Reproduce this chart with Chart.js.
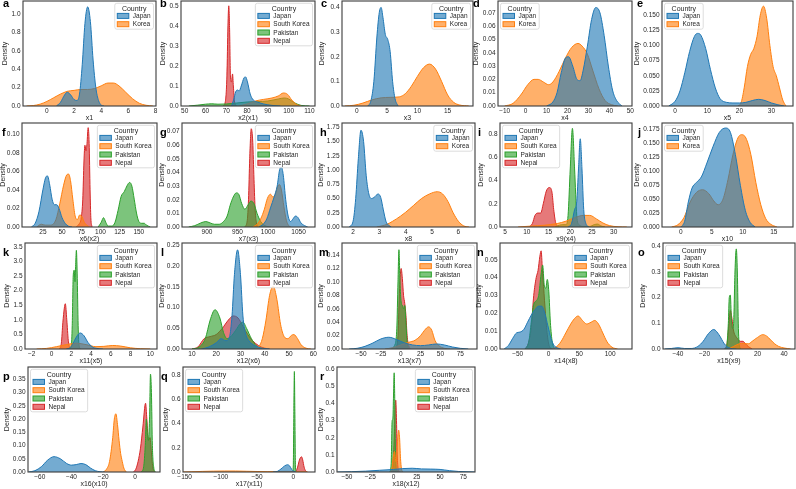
<!DOCTYPE html>
<html><head><meta charset="utf-8">
<script src="https://cdn.jsdelivr.net/npm/chart.js@4/dist/chart.umd.min.js"></script>
<style>
html,body{margin:0;padding:0;background:#fff}
body{width:796px;height:489px;position:relative;overflow:hidden;font-family:"Liberation Sans",Arial,sans-serif}
canvas{position:absolute}
.pl{position:absolute;font-weight:bold;font-size:11px;line-height:11px;color:#000}
</style></head><body>
<script>
// ---------- categories ----------
const C2 = ["Japan","Korea"];
const C4 = ["Japan","South Korea","Pakistan","Nepal"];
const COLOR = {"Japan":"#1f77b4","Korea":"#ff7f0e","South Korea":"#ff7f0e","Pakistan":"#2ca02c","Nepal":"#d62728"};

// ---------- tick labels ----------
const a_xt=["0","2","4","6","8"], a_yt=["0.0","0.2","0.4","0.6","0.8","1.0"];
const b_xt=["50","60","70","80","90","100","110"], b_yt=["0.0","0.1","0.2","0.3","0.4","0.5"];
const c_xt=["0","5","10","15"], c_yt=["0.0","0.1","0.2","0.3","0.4"];
const d_xt=["−10","0","10","20","30","40","50"], d_yt=["0.00","0.01","0.02","0.03","0.04","0.05","0.06","0.07"];
const e_xt=["0","10","20","30"], e_yt=["0.000","0.025","0.050","0.075","0.100","0.125","0.150"];
const f_xt=["25","50","75","100","125","150"], f_yt=["0.00","0.02","0.04","0.06","0.08","0.10"];
const g_xt=["900","950","1000","1050"], g_yt=["0.00","0.01","0.02","0.03","0.04","0.05","0.06","0.07"];
const h_xt=["2","3","4","5","6"], h_yt=["0.00","0.25","0.50","0.75","1.00","1.25","1.50","1.75"];
const i_xt=["5","10","15","20","25","30"], i_yt=["0.0","0.2","0.4","0.6","0.8"];
const j_xt=["0","5","10","15"], j_yt=["0.000","0.025","0.050","0.075","0.100","0.125","0.150","0.175"];
const k_xt=["−2","0","2","4","6","8","10"], k_yt=["0.0","0.5","1.0","1.5","2.0","2.5","3.0","3.5"];
const l_xt=["10","20","30","40","50","60"], l_yt=["0.00","0.05","0.10","0.15","0.20","0.25"];
const m_xt=["−50","−25","0","25","50","75"], m_yt=["0.00","0.02","0.04","0.06","0.08","0.10","0.12","0.14"];
const n_xt=["−50","0","50","100"], n_yt=["0.00","0.01","0.02","0.03","0.04","0.05"];
const o_xt=["−40","−20","0","20","40"], o_yt=["0.0","0.1","0.2","0.3","0.4"];
const p_xt=["−60","−40","−20","0"], p_yt=["0.00","0.05","0.10","0.15","0.20","0.25","0.30","0.35"];
const q_xt=["−150","−100","−50","0"], q_yt=["0.0","0.2","0.4","0.6","0.8"];
const r_xt=["−50","−25","0","25","50","75"], r_yt=["0.0","0.1","0.2","0.3","0.4","0.5","0.6"];

// ---------- series values (x, density) ----------
const a_Japan=[[0.7,0],[1.0,0.04],[1.3,0.12],[1.5,0.15],[1.75,0.12],[2.0,0.07],[2.2,0.06],[2.4,0.13],[2.6,0.45],[2.8,0.9],[3.0,1.08],[3.2,0.92],[3.4,0.5],[3.6,0.2],[3.8,0.06],[4.0,0.01],[4.2,0]];
const a_Korea=[[-1.5,0],[-1,0.005],[-0.5,0.02],[0,0.05],[0.5,0.09],[1,0.13],[1.5,0.16],[2,0.17],[2.5,0.18],[3,0.18],[3.5,0.19],[4,0.22],[4.5,0.25],[4.9,0.25],[5.3,0.22],[5.8,0.15],[6.3,0.08],[6.8,0.03],[7.3,0.008],[7.8,0]];

const b_Japan=[[72.5,0],[73.5,0.03],[74.5,0.07],[75.3,0.08],[76.2,0.075],[77.2,0.1],[78.5,0.14],[79.3,0.145],[80.2,0.12],[81.5,0.06],[83,0.03],[85,0.02],[88,0.01],[92,0.003],[96,0]];
const b_SK=[[76,0],[80,0.01],[84,0.025],[88,0.033],[92,0.04],[95,0.05],[97.5,0.065],[99.5,0.058],[101.5,0.03],[103.5,0.01],[106,0]];
const b_Pak=[[52,0],[56,0.004],[60,0.009],[63,0.011],[66,0.009],[70,0.01],[75,0.015],[80,0.02],[85,0.022],[90,0.025],[95,0.035],[98,0.04],[100,0.035],[103,0.015],[106,0.003],[110,0]];
const b_Nepal=[[68.5,0],[69.5,0.02],[70.3,0.15],[70.8,0.4],[71.2,0.5],[71.6,0.38],[72.0,0.15],[72.5,0.12],[73.0,0.16],[73.4,0.1],[74,0.02],[75,0]];

const c_Japan=[[1.8,0],[2.3,0.02],[2.8,0.1],[3.3,0.28],[3.7,0.38],[4.0,0.4],[4.3,0.36],[4.7,0.29],[5.1,0.27],[5.5,0.22],[5.9,0.1],[6.3,0.03],[6.8,0]];
const c_Korea=[[-2,0],[-0.5,0.003],[1,0.012],[2.5,0.025],[4,0.033],[5.5,0.035],[7,0.037],[8,0.05],[9,0.08],[10,0.12],[11,0.155],[12,0.17],[13,0.15],[14,0.1],[15,0.045],[16,0.015],[17,0.004],[18.5,0]];

const d_Japan=[[10,0],[13,0.003],[15,0.01],[17,0.025],[19,0.036],[20.5,0.037],[22.5,0.03],[24.5,0.02],[26,0.019],[27.5,0.027],[29.5,0.045],[31.5,0.065],[33.5,0.074],[35.5,0.07],[37.5,0.053],[39.5,0.03],[41.5,0.012],[43.5,0.004],[46,0]];
const d_Korea=[[-10,0],[-6,0.002],[-2,0.009],[1,0.016],[4,0.02],[6,0.02],[8.5,0.018],[11,0.016],[13,0.018],[16,0.026],[19,0.036],[22,0.044],[25,0.047],[27,0.045],[29.5,0.039],[32,0.027],[35,0.013],[38,0.004],[41,0.001],[44,0]];

const e_Japan=[[-2,0],[0,0.008],[1.5,0.025],[3,0.055],[4.5,0.09],[6,0.115],[7,0.12],[8,0.117],[9.5,0.095],[11,0.06],[12.5,0.03],[14,0.012],[16,0.006],[18,0.005],[20,0.005],[22,0.006],[24,0.009],[26,0.011],[28,0.009],[30,0.005],[32,0.002],[34,0]];
const e_Korea=[[19.5,0],[20.5,0.005],[21.5,0.03],[22.5,0.065],[23.5,0.085],[24.5,0.095],[25.5,0.115],[26.5,0.15],[27.5,0.165],[28.5,0.145],[29.5,0.1],[30.5,0.065],[31.5,0.05],[32.5,0.03],[33.5,0.01],[34.5,0]];

const f_Japan=[[10,0],[15,0.004],[20,0.017],[25,0.04],[29,0.054],[31,0.055],[34,0.045],[37,0.03],[40,0.024],[43,0.024],[46,0.02],[50,0.01],[54,0.004],[58,0.001],[63,0]];
const f_SK=[[17,0],[23,0.003],[28,0.002],[35,0.002],[42,0.008],[47,0.025],[52,0.045],[56,0.056],[58.5,0.057],[61,0.05],[64,0.03],[67,0.012],[70,0.008],[73,0.013],[76,0.011],[79,0.005],[82,0.002],[86,0]];
const f_Pak=[[97,0],[101,0.005],[104,0.01],[107,0.005],[110,0.001],[115,0.001],[119,0.005],[123,0.018],[127,0.033],[131,0.038],[135,0.045],[138,0.048],[141,0.044],[144,0.03],[147,0.015],[150,0.006],[154,0.004],[157,0.004],[160,0.002],[165,0]];
const f_Nepal=[[68,0],[72,0.003],[75,0.01],[77,0.03],[78.5,0.07],[79.8,0.088],[81.2,0.082],[82.5,0.09],[84,0.107],[85.3,0.09],[86.5,0.04],[87.5,0.01],[89,0]];

const g_Japan=[[985,0],[992,0.002],[998,0.006],[1004,0.014],[1010,0.022],[1015,0.03],[1019,0.042],[1022,0.044],[1025,0.038],[1029,0.02],[1033,0.008],[1037,0.004],[1041,0.006],[1045,0.008],[1049,0.007],[1054,0.003],[1060,0.001],[1065,0]];
const g_SK=[[975,0],[982,0.002],[988,0.006],[994,0.013],[999,0.021],[1004,0.024],[1008,0.022],[1012,0.024],[1016,0.03],[1019,0.031],[1022,0.027],[1026,0.015],[1030,0.005],[1034,0.001],[1038,0]];
const g_Pak=[[870,0],[880,0.001],[890,0.003],[898,0.004],[905,0.003],[912,0.002],[920,0.002],[927,0.004],[933,0.008],[938,0.016],[943,0.022],[948,0.025],[952,0.024],[957,0.017],[962,0.013],[967,0.016],[972,0.019],[977,0.017],[982,0.01],[988,0.004],[995,0.001],[1005,0]];
const g_Nepal=[[962,0],[966,0.005],[968,0.02],[970,0.05],[972.5,0.072],[975,0.062],[977,0.035],[979,0.012],[981,0.003],[984,0]];

const h_Japan=[[1.85,0],[2.0,0.1],[2.1,0.5],[2.2,1.2],[2.3,1.7],[2.4,1.5],[2.5,0.9],[2.6,0.58],[2.7,0.5],[2.8,0.52],[2.95,0.58],[3.05,0.52],[3.15,0.3],[3.25,0.1],[3.35,0.03],[3.45,0]];
const h_Korea=[[2.9,0],[3.1,0.02],[3.3,0.05],[3.5,0.1],[3.8,0.19],[4.0,0.26],[4.3,0.38],[4.6,0.5],[4.9,0.58],[5.2,0.62],[5.4,0.58],[5.6,0.45],[5.8,0.25],[6.0,0.1],[6.2,0.02],[6.4,0]];

const i_Japan=[[19.5,0],[20.3,0.03],[21.0,0.15],[21.5,0.22],[21.9,0.5],[22.3,0.76],[22.7,0.5],[23.1,0.15],[23.6,0.03],[24.3,0]];
const i_SK=[[8,0],[11,0.008],[14,0.015],[17,0.03],[19,0.05],[21,0.08],[23,0.1],[24.5,0.1],[26,0.07],[27.5,0.035],[29,0.012],[31,0.002],[33,0]];
const i_Pak=[[16.5,0],[17.5,0.015],[18.3,0.02],[19.0,0.02],[19.5,0.1],[20.0,0.5],[20.5,0.85],[21.0,0.5],[21.5,0.1],[22,0.02],[23,0.005],[24.5,0.005],[25.5,0.02],[26.3,0.025],[27,0.01],[28,0]];
const i_Nepal=[[10.5,0],[11.3,0.03],[11.9,0.1],[12.5,0.12],[13.2,0.12],[13.8,0.2],[14.5,0.31],[15.2,0.34],[15.8,0.3],[16.2,0.15],[16.7,0.03],[17.5,0]];

const j_Japan=[[0,0],[0.6,0.01],[1.2,0.045],[1.8,0.07],[2.5,0.08],[3.3,0.09],[4.2,0.115],[5.2,0.145],[6.2,0.17],[7.2,0.178],[8.0,0.17],[8.8,0.13],[9.6,0.075],[10.4,0.03],[11.2,0.008],[12,0]];
const j_Korea=[[-1.5,0],[-0.5,0.004],[0.5,0.017],[1.5,0.045],[2.5,0.062],[3.5,0.067],[4.5,0.06],[5.3,0.047],[6.0,0.04],[6.8,0.05],[7.6,0.085],[8.4,0.13],[9.2,0.16],[9.8,0.166],[10.5,0.16],[11.3,0.13],[12.1,0.08],[12.9,0.04],[13.7,0.015],[14.5,0.005],[15.5,0]];

const k_Japan=[[1.5,0],[1.9,0.05],[2.2,0.2],[2.5,0.4],[2.9,0.55],[3.3,0.45],[3.7,0.22],[4.1,0.08],[4.6,0.02],[5.2,0]];
const k_SK=[[-1.5,0],[-0.5,0.02],[0.5,0.08],[1.5,0.15],[2.5,0.2],[3.5,0.15],[4.5,0.08],[5.3,0.09],[6.2,0.12],[7,0.1],[8,0.04],[9,0.01],[10,0]];
const k_Pak=[[1.8,0],[2.0,0.1],[2.1,0.8],[2.2,2.5],[2.3,2.7],[2.38,2.3],[2.45,2.9],[2.52,3.38],[2.6,2.6],[2.7,0.8],[2.8,0.1],[2.95,0]];
const k_Nepal=[[0.8,0],[1.0,0.2],[1.15,0.9],[1.3,1.4],[1.4,1.55],[1.55,1.0],[1.7,0.3],[1.85,0.05],[2.0,0]];

const l_Japan=[[14,0],[17,0.005],[20,0.015],[22,0.025],[24,0.02],[25.5,0.03],[26.5,0.08],[27.5,0.18],[28.8,0.24],[30,0.18],[31,0.08],[32,0.04],[33.5,0.02],[36,0.008],[39,0.002],[42,0]];
const l_SK=[[36,0],[37.5,0.005],[39,0.025],[40.5,0.07],[42,0.13],[43.5,0.152],[45,0.12],[46.5,0.06],[48,0.03],[49.5,0.025],[51,0.033],[52,0.035],[53.5,0.025],[55,0.01],[57,0.002],[59,0]];
const l_Pak=[[10,0],[13,0.005],[15.5,0.025],[17.5,0.07],[19.5,0.095],[21.5,0.075],[23,0.04],[24.5,0.025],[26,0.03],[28,0.045],[30,0.062],[31,0.065],[32.5,0.05],[34.5,0.025],[36.5,0.008],[39,0]];
const l_Nepal=[[10,0],[12.5,0.005],[15,0.025],[17.5,0.03],[20,0.035],[22.5,0.05],[25,0.07],[27,0.08],[29,0.075],[31,0.055],[33,0.035],[35,0.02],[37.5,0.008],[40,0.002],[42,0]];

const m_Japan=[[-65,0],[-55,0.001],[-45,0.004],[-35,0.009],[-25,0.015],[-15,0.0175],[-5,0.014],[5,0.009],[15,0.006],[25,0.005],[35,0.006],[45,0.0075],[55,0.006],[65,0.003],[75,0.001],[85,0]];
const m_SK=[[-20,0],[-10,0.002],[0,0.006],[10,0.01],[18,0.013],[25,0.02],[30,0.028],[35,0.033],[39,0.028],[43,0.013],[48,0.005],[55,0.001],[62,0]];
const m_Pak=[[-12,0],[-8,0.005],[-5,0.03],[-3.5,0.1],[-2.3,0.148],[-1,0.1],[0.5,0.07],[2,0.065],[3.5,0.06],[5,0.065],[6.5,0.04],[8,0.01],[10,0]];
const m_Nepal=[[-6,0],[-3.5,0.02],[-1.5,0.09],[0.5,0.12],[2,0.105],[3.5,0.08],[5,0.068],[6.5,0.05],[8,0.02],[10,0.005],[12,0]];

const n_Japan=[[-72,0],[-65,0.002],[-58,0.006],[-52,0.009],[-46,0.0095],[-40,0.011],[-34,0.015],[-28,0.019],[-22,0.022],[-16,0.024],[-11,0.024],[-6,0.02],[-1,0.013],[4,0.006],[9,0.002],[15,0.0005],[20,0]];
const n_SK=[[5,0],[12,0.001],[20,0.004],[28,0.009],[36,0.014],[42,0.017],[48,0.0185],[55,0.016],[62,0.014],[69,0.015],[75,0.016],[81,0.014],[88,0.009],[95,0.004],[103,0.001],[112,0]];
const n_Pak=[[-38,0],[-32,0.004],[-28,0.015],[-24,0.025],[-20,0.027],[-16,0.03],[-12,0.042],[-9.5,0.047],[-7,0.036],[-4.5,0.034],[-2,0.039],[0.5,0.032],[3,0.015],[6,0.004],[10,0]];
const n_Nepal=[[-38,0],[-33,0.003],[-28,0.012],[-24,0.03],[-20,0.04],[-17,0.044],[-14,0.052],[-12,0.055],[-10,0.045],[-8,0.035],[-5,0.02],[-2,0.008],[2,0.001],[6,0]];

const o_Japan=[[-50,0],[-45,0.002],[-40,0.005],[-35,0.002],[-30,0.002],[-25,0.01],[-21,0.03],[-17,0.06],[-13,0.076],[-9,0.055],[-5,0.02],[-2,0.006],[1,0.001],[4,0]];
const o_SK=[[-2,0],[2,0.01],[6,0.02],[10,0.022],[13,0.02],[16,0.03],[20,0.045],[24,0.056],[27,0.05],[30,0.035],[33,0.02],[36,0.01],[40,0.004],[45,0]];
const o_Pak=[[-4,0],[-3,0.02],[-2,0.1],[-1.3,0.2],[-0.5,0.21],[0.3,0.12],[1.2,0.08],[2,0.1],[3,0.3],[4,0.39],[4.8,0.3],[5.6,0.08],[6.5,0.01],[7.5,0]];
const o_Nepal=[[-5,0],[-3,0.02],[-1.5,0.1],[-0.5,0.15],[0.7,0.12],[2,0.07],[3.5,0.05],[5,0.04],[7,0.03],[9,0.03],[11,0.02],[13,0.01],[16,0]];

const p_Japan=[[-67,0],[-63,0.005],[-59,0.02],[-55,0.045],[-51,0.058],[-47,0.05],[-43,0.032],[-40,0.026],[-37,0.028],[-34,0.032],[-31,0.028],[-28,0.015],[-25,0.005],[-22,0.001],[-19,0]];
const p_SK=[[-20,0],[-18,0.01],[-16,0.04],[-14,0.13],[-13,0.2],[-12,0.22],[-11,0.18],[-10,0.12],[-9,0.07],[-8,0.04],[-7,0.015],[-5.5,0]];
const p_Pak=[[4,0],[5.5,0.02],[6.5,0.1],[7.2,0.2],[7.8,0.15],[8.5,0.12],[9.2,0.2],[9.8,0.37],[10.4,0.3],[11,0.1],[11.8,0.02],[12.8,0]];
const p_Nepal=[[-1,0],[0.5,0.01],[2,0.04],[3.5,0.09],[5,0.17],[6.7,0.26],[7.5,0.2],[8.5,0.12],[9.5,0.13],[10.3,0.08],[11.2,0.02],[12.5,0]];

const q_Japan=[[-28,0],[-22,0.005],[-17,0.025],[-12,0.05],[-8,0.06],[-5,0.05],[-2,0.02],[1,0.005],[4,0]];
const q_SK=[[-152,0],[-140,0.002],[-125,0.005],[-110,0.007],[-95,0.008],[-80,0.008],[-65,0.006],[-50,0.004],[-35,0.003],[-20,0.004],[-10,0.005],[0,0.004],[10,0.002],[20,0]];
const q_Pak=[[-1,0],[0,0.05],[0.8,0.5],[1.5,0.83],[2.2,0.5],[3,0.05],[4,0]];
const q_Nepal=[[2,0],[4,0.01],[6,0.04],[8,0.09],[10,0.12],[11.5,0.125],[13,0.1],[15,0.04],[17,0.01],[19,0]];

const r_Japan=[[-60,0],[-45,0.002],[-30,0.005],[-15,0.01],[0,0.015],[10,0.02],[20,0.022],[30,0.018],[40,0.017],[50,0.015],[60,0.008],[70,0.003],[80,0.001],[87,0]];
const r_SK=[[-3,0],[-1.5,0.03],[0,0.1],[1.2,0.12],[2.5,0.06],[3.5,0.1],[4.5,0.2],[5.5,0.245],[6.5,0.2],[7.5,0.08],[8.5,0.02],[10,0]];
const r_Pak=[[-4,0],[-2.5,0.05],[-1.5,0.3],[-0.7,0.31],[0,0.45],[0.7,0.58],[1.4,0.4],[2.2,0.1],[3.5,0.01],[5,0]];
const r_Nepal=[[-2,0],[-0.5,0.05],[0.8,0.2],[1.6,0.35],[2.4,0.42],[3.2,0.3],[4,0.1],[5,0.02],[6.5,0]];

// ---------- panel layout ----------
// fr = [frameLeft, frameTop, frameRight, frameBottom], dens = x of "Density" title centre, lt = letter [left, top]
const PANELS = [
 {id:"a",xl:"x1",    names:C2,s:[a_Japan,a_Korea],xt:a_xt,yt:a_yt,xr:[-1.76,8.03],ym:1.144,leg:"right",dens:5,  fr:[23,1,156,106], lt:[3,-2]},
 {id:"b",xl:"x2(x1)",names:C4,s:[b_Japan,b_SK,b_Pak,b_Nepal],xt:b_xt,yt:b_yt,xr:[48.2,112.7],ym:0.524,leg:"right",dens:163.5,fr:[181,1,315,106],lt:[160,-2]},
 {id:"c",xl:"x3",    names:C2,s:[c_Japan,c_Korea],xt:c_xt,yt:c_yt,xr:[-2.47,19.2],ym:0.426,leg:"right",dens:322.5,fr:[342,1,473,106],lt:[321,-2]},
 {id:"d",xl:"x4",    names:C2,s:[d_Japan,d_Korea],xt:d_xt,yt:d_yt,xr:[-13.2,50.8],ym:0.0789,leg:"left",dens:476,fr:[498,1,632,106],lt:[473,-2]},
 {id:"e",xl:"x5",    names:C2,s:[e_Japan,e_Korea],xt:e_xt,yt:e_yt,xr:[-4.1,36.7],ym:0.1735,leg:"left",dens:637.5,fr:[662,1,793,106],lt:[637,-2]},
 {id:"f",xl:"x6(x2)",names:C4,s:[f_Japan,f_SK,f_Pak,f_Nepal],xt:f_xt,yt:f_yt,xr:[-2.2,173.7],ym:0.112,leg:"right",dens:3.5,fr:[22,123,157,227],lt:[2,127]},
 {id:"g",xl:"x7(x3)",names:C4,s:[g_Japan,g_SK,g_Pak,g_Nepal],xt:g_xt,yt:g_yt,xr:[859,1077],ym:0.0762,leg:"right",dens:162.5,fr:[182,123,315,227],lt:[160,127]},
 {id:"h",xl:"x8",    names:C2,s:[h_Japan,h_Korea],xt:h_xt,yt:h_yt,xr:[1.58,6.63],ym:1.827,leg:"right",dens:321.5,fr:[342,123,475,227],lt:[320,127]},
 {id:"i",xl:"x9(x4)",names:C4,s:[i_Japan,i_SK,i_Pak,i_Nepal],xt:i_xt,yt:i_yt,xr:[3.85,34.2],ym:0.896,leg:"left",dens:481,fr:[500,123,632,227],lt:[478,127]},
 {id:"j",xl:"x10",   names:C2,s:[j_Japan,j_Korea],xt:j_xt,yt:j_yt,xr:[-3.05,18.1],ym:0.187,leg:"left",dens:637.5,fr:[662,123,793,227],lt:[638,127]},
 {id:"k",xl:"x11(x5)",names:C4,s:[k_Japan,k_SK,k_Pak,k_Nepal],xt:k_xt,yt:k_yt,xr:[-2.68,10.68],ym:3.63,leg:"right",dens:7,fr:[25,243,157,349],lt:[3,247]},
 {id:"l",xl:"x12(x6)",names:C4,s:[l_Japan,l_SK,l_Pak,l_Nepal],xt:l_xt,yt:l_yt,xr:[5.9,60.7],ym:0.2565,leg:"right",dens:162.5,fr:[182,243,315,349],lt:[161,247]},
 {id:"m",xl:"x13(x7)",names:C4,s:[m_Japan,m_SK,m_Pak,m_Nepal],xt:m_xt,yt:m_yt,xr:[-74,96],ym:0.158,leg:"right",dens:321.5,fr:[342,243,477,349],lt:[319,247]},
 {id:"n",xl:"x14(x8)",names:C4,s:[n_Japan,n_SK,n_Pak,n_Nepal],xt:n_xt,yt:n_yt,xr:[-78.7,135.4],ym:0.0594,leg:"right",dens:479.5,fr:[500,243,632,349],lt:[477,247]},
 {id:"o",xl:"x15(x9)",names:C4,s:[o_Japan,o_SK,o_Pak,o_Nepal],xt:o_xt,yt:o_yt,xr:[-51.3,48.3],ym:0.413,leg:"left",dens:643.5,fr:[663,243,795,349],lt:[638,247]},
 {id:"p",xl:"x16(x10)",names:C4,s:[p_Japan,p_SK,p_Pak,p_Nepal],xt:p_xt,yt:p_yt,xr:[-67.4,15.8],ym:0.397,leg:"left",dens:7,fr:[28,367,160,472],lt:[3,371]},
 {id:"q",xl:"x17(x11)",names:C4,s:[q_Japan,q_SK,q_Pak,q_Nepal],xt:q_xt,yt:q_yt,xr:[-152.3,30],ym:0.867,leg:"left",dens:166,fr:[183,367,315,472],lt:[161,371]},
 {id:"r",xl:"x18(x12)",names:C4,s:[r_Japan,r_SK,r_Pak,r_Nepal],xt:r_xt,yt:r_yt,xr:[-60.7,87.5],ym:0.614,leg:"right",dens:321.5,fr:[337,367,475,472],lt:[320,371]}
];

const FAM = '"Liberation Sans", Arial, sans-serif';
const TXT = '#262626';
const num = s => parseFloat(String(s).replace('\u2212','-'));
function rgba(hex,a){const v=parseInt(hex.slice(1),16);return `rgba(${v>>16&255},${v>>8&255},${v&255},${a})`;}

const framePlugin = {
  id:'frame',
  afterDatasetsDraw(chart){
    const {ctx, chartArea:ca} = chart;
    ctx.save();
    ctx.strokeStyle = '#3b3b3b'; ctx.lineWidth = 1.1;
    ctx.strokeRect(ca.left, ca.top, ca.right-ca.left, ca.bottom-ca.top);
    ctx.restore();
  }
};
function legendPlugin(side){
  return {
    id:'kdeLegend',
    afterDraw(chart){
      const {ctx, chartArea:ca} = chart;
      const ds = chart.data.datasets;
      const fE = '6.5px ' + FAM, fT = '7px ' + FAM;
      ctx.save();
      ctx.font = fE;
      let tw = 0; ds.forEach(d => tw = Math.max(tw, ctx.measureText(d.label).width));
      ctx.font = fT; const ttw = ctx.measureText('Country').width;
      const padL = 2.5, pw = 11.5, ph = 5, gap = 4, padR = 3, rowH = 8.3;
      const w = Math.max(padL + pw + gap + tw + padR, ttw + 10);
      const h = 12.6 + rowH * (ds.length - 1) + 5;
      const x0 = side === 'left' ? ca.left + 2.5 : ca.right - 2.5 - w;
      const y0 = ca.top + 2.3;
      ctx.beginPath();
      if (ctx.roundRect) ctx.roundRect(x0, y0, w, h, 2); else ctx.rect(x0, y0, w, h);
      ctx.fillStyle = 'rgba(255,255,255,0.85)'; ctx.fill();
      ctx.strokeStyle = '#d4d4d4'; ctx.lineWidth = 0.8; ctx.stroke();
      ctx.fillStyle = TXT; ctx.textAlign = 'center'; ctx.textBaseline = 'middle';
      ctx.font = fT; ctx.fillText('Country', x0 + w / 2, y0 + 5.3);
      ctx.font = fE; ctx.textAlign = 'left';
      ds.forEach((d, i) => {
        const cy = y0 + 12.6 + i * rowH;
        ctx.fillStyle = d.backgroundColor; ctx.fillRect(x0 + padL, cy - ph / 2, pw, ph);
        ctx.strokeStyle = d.borderColor; ctx.lineWidth = 1; ctx.strokeRect(x0 + padL, cy - ph / 2, pw, ph);
        ctx.fillStyle = TXT; ctx.fillText(d.label, x0 + padL + pw + gap, cy + 0.3);
      });
      ctx.restore();
    }
  };
}
function zeroPad(s){ s.paddingTop = 0; s.paddingBottom = 0; s.paddingLeft = 0; s.paddingRight = 0; }

PANELS.forEach(p => {
  const [fl, ft, fr, fb] = p.fr;
  const cl = Math.round(p.dens - 4.5);
  const PT = 5, PR = 7, X_H = 17;
  const ct = ft - PT;
  const W = fr - cl + PR, H = fb - ct + X_H;
  const cv = document.createElement('canvas');
  cv.width = W; cv.height = H;
  cv.style.left = cl + 'px'; cv.style.top = ct + 'px';
  cv.style.width = W + 'px'; cv.style.height = H + 'px';
  document.body.appendChild(cv);

  const lt = document.createElement('div');
  lt.className = 'pl'; lt.textContent = p.id;
  lt.style.left = p.lt[0] + 'px'; lt.style.top = p.lt[1] + 'px';
  document.body.appendChild(lt);

  const xv = p.xt.map(num), yv = p.yt.map(num);
  const yW = fl - cl;
  new Chart(cv, {
    type: 'line',
    data: {
      datasets: p.s.map((ser, i) => ({
        label: p.names[i],
        data: ser.map(([x, y]) => ({x, y})),
        fill: 'origin',
        borderColor: COLOR[p.names[i]],
        backgroundColor: rgba(COLOR[p.names[i]], 0.62),
        borderWidth: 1,
        pointRadius: 0,
        cubicInterpolationMode: 'monotone'
      }))
    },
    options: {
      responsive: false, animation: false, events: [],
      devicePixelRatio: 1,
      layout: {padding: {left: 0, top: PT, right: PR, bottom: 0}},
      plugins: {legend: {display: false}, tooltip: {enabled: false}},
      scales: {
        x: {
          type: 'linear', min: p.xr[0], max: p.xr[1],
          grid: {display: false, drawTicks: false, tickLength: 0},
          border: {display: false},
          ticks: {font: {family: FAM, size: 6.5}, color: TXT, padding: 1.8, maxRotation: 0, minRotation: 0, autoSkip: false,
                  callback: (v, i) => p.xt[i]},
          afterBuildTicks: s => { s.ticks = xv.map(v => ({value: v})); },
          afterFit: s => { s.height = X_H; zeroPad(s); },
          title: {display: true, text: p.xl, font: {family: FAM, size: 7}, color: TXT, padding: {top: 0, bottom: 1}}
        },
        y: {
          type: 'linear', min: 0, max: p.ym,
          grid: {display: false, drawTicks: false, tickLength: 0},
          border: {display: false},
          ticks: {font: {family: FAM, size: 6.5}, color: TXT, padding: 2.5, autoSkip: false,
                  callback: (v, i) => p.yt[i]},
          afterBuildTicks: s => { s.ticks = yv.map(v => ({value: v})); },
          afterFit: s => { s.width = yW; zeroPad(s); },
          title: {display: true, text: 'Density', font: {family: FAM, size: 7}, color: TXT, padding: {top: 0, bottom: 0}}
        }
      }
    },
    plugins: [framePlugin, legendPlugin(p.leg)]
  });
});
</script>
</body></html>
